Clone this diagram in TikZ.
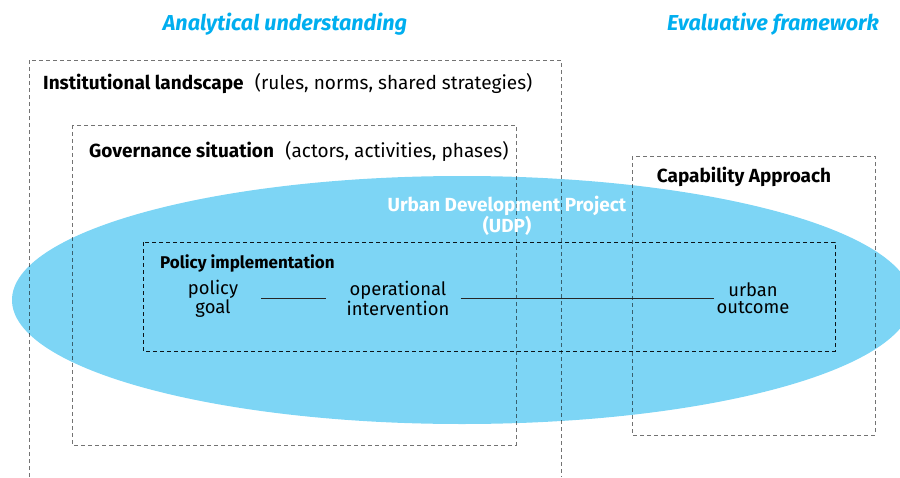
\documentclass[tikz,border=0pt]{standalone}
\usepackage{fontspec}
\setmainfont{Fira Sans}
\definecolor{udpblue}{RGB}{125,213,245}
\definecolor{titleblue}{RGB}{0,174,239}

\begin{document}
\begin{tikzpicture}[x=1pt, y=-1pt,
    frame/.style={draw=black, draw opacity=0.55, dash pattern=on 4pt off 3pt, line width=1pt},
    title/.style={text=titleblue, font=\fontsize{21.6}{24}\selectfont\bfseries\itshape, inner sep=0pt},
    label/.style={font=\fontsize{19}{21}\selectfont, inner sep=0pt, anchor=base west},
    stepnode/.style={font=\fontsize{18.4}{17}\selectfont, align=center, inner sep=0pt},
    link/.style={draw=black!85, line width=0.8pt}]
    \useasboundingbox (0,0) rectangle (900,477);

    % the project
    \fill[udpblue] (462,300) ellipse (450 and 124);

    % frames
    \draw[frame] (29,477) -- (29,60) -- (561,60) -- (561,477);
    \draw[frame] (72,125) rectangle (516,445);
    \draw[frame] (632,156) rectangle (875,435);
    \draw[frame, draw=black, draw opacity=0.9] (143,242) rectangle (835,351);

    % titles
    \node[title, anchor=base] (analytic) at (285,30) {Analytical understanding};
    \node[title, anchor=base] (evaluative) at (773,30) {Evaluative framework};

    % frame labels
    \node[label] (institution) at (43,89) {\textbf{Institutional landscape}\hspace{0.6em}(rules, norms, shared strategies)};
    \node[label] (governance) at (89,157) {\textbf{Governance situation}\hspace{0.6em}(actors, activities, phases)};
    \node[label, anchor=base] (capability) at (744,182) {\textbf{Capability Approach}};
    \node[label, font=\fontsize{17}{18}\selectfont\bfseries] (policy) at (160,268) {Policy implementation};

    % UDP
    \node[stepnode, font=\fontsize{19}{17}\selectfont\bfseries, text=white] (udp) at (507,216) {Urban Development Project\\(UDP)};

    % chain
    \node[stepnode] (goal) at (213,298.5) {policy\\goal};
    \node[stepnode] (interv) at (398,298.5) {operational\\intervention};
    \node[stepnode] (outcome) at (753,298.5) {urban\\outcome};

    \draw[link] ([xshift=23pt]goal.east) -- ([xshift=-20pt]interv.west);
    \draw[link] ([xshift=11pt]interv.east) -- ([xshift=-2pt]outcome.west);
\end{tikzpicture}
\end{document}
